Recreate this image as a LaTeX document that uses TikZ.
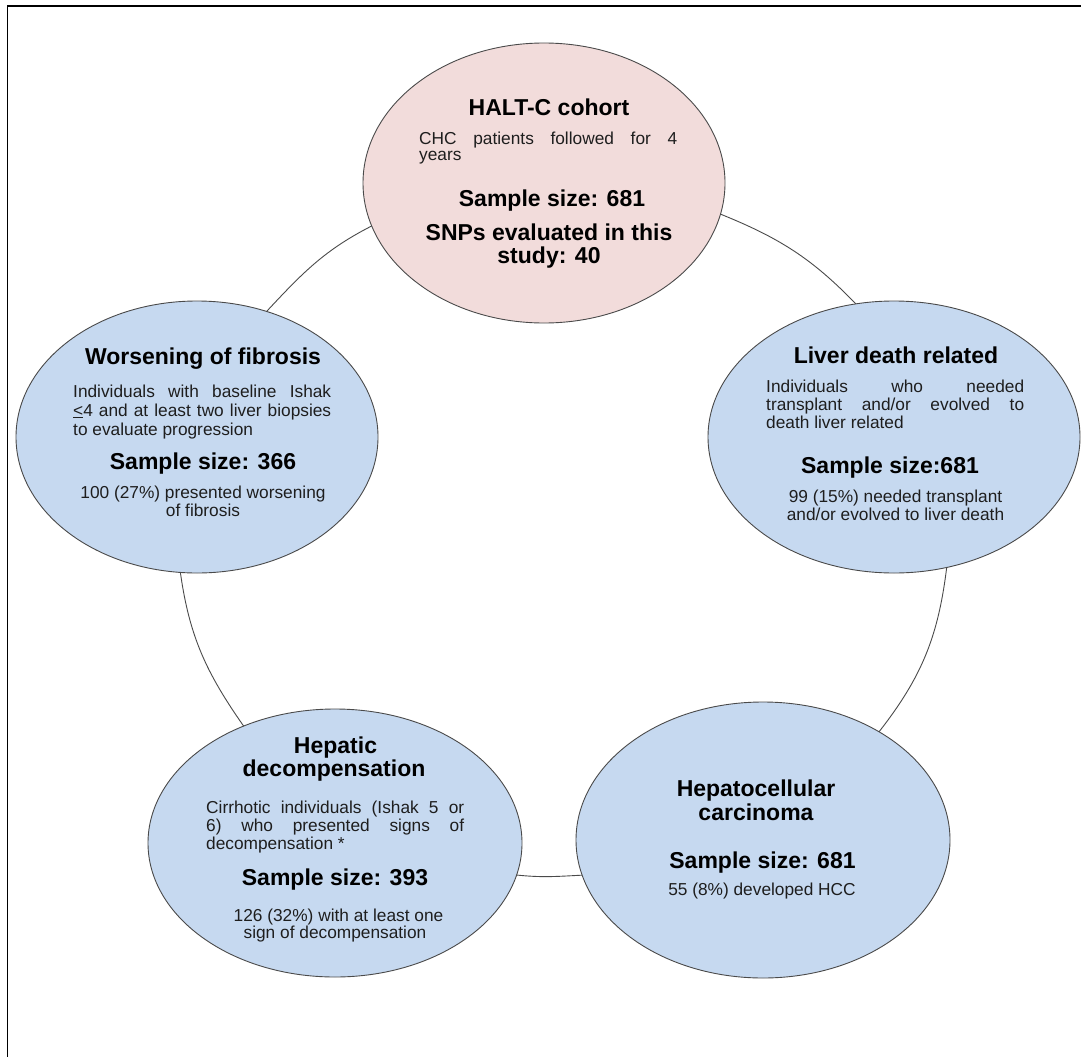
\documentclass[tikz,border=0pt]{standalone}
\usepackage{fontspec}
\setmainfont{Liberation Sans}
\usetikzlibrary{shapes.geometric}
\definecolor{pinkfill}{HTML}{F2DCDB}
\definecolor{bluefill}{HTML}{C6D9F0}
\definecolor{edgegray}{HTML}{4A4A4A}
\definecolor{bodytext}{HTML}{1E1E1E}
\newcommand{\jl}[1]{\makebox[258pt][s]{#1}}
\begin{document}
\begin{tikzpicture}[x=1pt,y=1pt,
  bubble/.style={ellipse, draw=edgegray, line width=0.9pt, inner sep=0pt, outer sep=0pt},
  pinkbubble/.style={bubble, fill=pinkfill},
  bluebubble/.style={bubble, fill=bluefill},
  link/.style={draw=edgegray, line width=0.9pt},
  ttl/.style={anchor=base, inner sep=0pt, font=\fontsize{23}{27}\selectfont\bfseries, text=black},
  bdy/.style={anchor=base, inner sep=0pt, font=\fontsize{17.3}{20}\selectfont, text=bodytext},
  bdyj/.style={bdy, anchor=base west}]
\useasboundingbox (0,0) rectangle (1081,-1057);
% frame
\draw[line width=1.4pt] (1081,-6) -- (7.5,-6) -- (7.5,-1057);
% bubbles
\node[pinkbubble, minimum width=362pt, minimum height=280pt] (halt) at (544,-183) {};
\node[bluebubble, minimum width=362pt, minimum height=272pt] (worse) at (197,-437) {};
\node[bluebubble, minimum width=372pt, minimum height=272pt] (liver) at (894,-437) {};
\node[bluebubble, minimum width=374pt, minimum height=268pt] (hep) at (335,-843) {};
\node[bluebubble, minimum width=374pt, minimum height=276pt] (hcc) at (763,-840) {};
% connectors
\draw[link] (halt.194) to[out=207,in=47] (worse.61);
\draw[link] (halt.350) to[out=338,in=134] (liver.106);
\draw[link] (liver.292) to[out=263,in=52] (hcc.43);
\draw[link] (hcc.191) to[out=183,in=354] (hep.350);
\draw[link] (hep.128) to[out=125,in=278] (worse.263);
% HALT-C texts
\node[ttl] (haltA) at (549,-115.5) {HALT-C cohort};
\node[bdyj] (haltB) at (419,-144) {\jl{CHC patients followed for 4}};
\node[bdyj] (haltC) at (419,-160.5) {years};
\node[ttl] (haltD) at (552,-206) {Sample size: 681};
\node[ttl] (haltE) at (549,-240.5) {SNPs evaluated in this};
\node[ttl] (haltF) at (549,-263.5) {study: 40};
% Worsening texts
\node[ttl] (worseA) at (203,-364) {Worsening of fibrosis};
\node[bdyj] (worseB) at (73,-397) {\jl{Individuals with baseline Ishak}};
\node[bdyj] (worseC) at (73,-416) {\jl{\underline{<}4 and at least two liver biopsies}};
\node[bdyj] (worseD) at (73,-435) {to evaluate progression};
\node[ttl] (worseE) at (203,-469) {Sample size: 366};
\node[bdy] (worseF) at (203,-498) {100 (27\%) presented worsening};
\node[bdy] (worseG) at (203,-516.5) {of fibrosis};
% Liver texts
\node[ttl] (liverA) at (896,-363) {Liver death related};
\node[bdyj] (liverB) at (766,-392.5) {\jl{Individuals who needed}};
\node[bdyj] (liverC) at (766,-410) {\jl{transplant and/or evolved to}};
\node[bdyj] (liverD) at (766,-428) {death liver related};
\node[ttl] (liverE) at (890,-473) {Sample size:681};
\node[bdy] (liverF) at (895.5,-502) {99 (15\%) needed transplant};
\node[bdy] (liverG) at (895.5,-520) {and/or evolved to liver death};
% Hepatic texts
\node[ttl] (hepA) at (335.5,-753) {Hepatic};
\node[ttl] (hepB) at (334,-776.5) {decompensation};
\node[bdyj] (hepC) at (206,-813) {\jl{Cirrhotic individuals (Ishak 5 or}};
\node[bdyj] (hepD) at (206,-831.5) {\jl{6) who presented signs of}};
\node[bdyj] (hepE) at (206,-849) {decompensation *};
\node[ttl] (hepF) at (335,-885) {Sample size: 393};
\node[bdy] (hepG) at (338.5,-921.5) {126 (32\%) with at least one};
\node[bdy] (hepH) at (335,-938) {sign of decompensation};
% HCC texts
\node[ttl] (hccA) at (756,-796.5) {Hepatocellular};
\node[ttl] (hccB) at (756,-820) {carcinoma};
\node[ttl] (hccC) at (762.5,-868) {Sample size: 681};
\node[bdy] (hccD) at (762,-895.5) {55 (8\%) developed HCC};
\end{tikzpicture}
\end{document}
